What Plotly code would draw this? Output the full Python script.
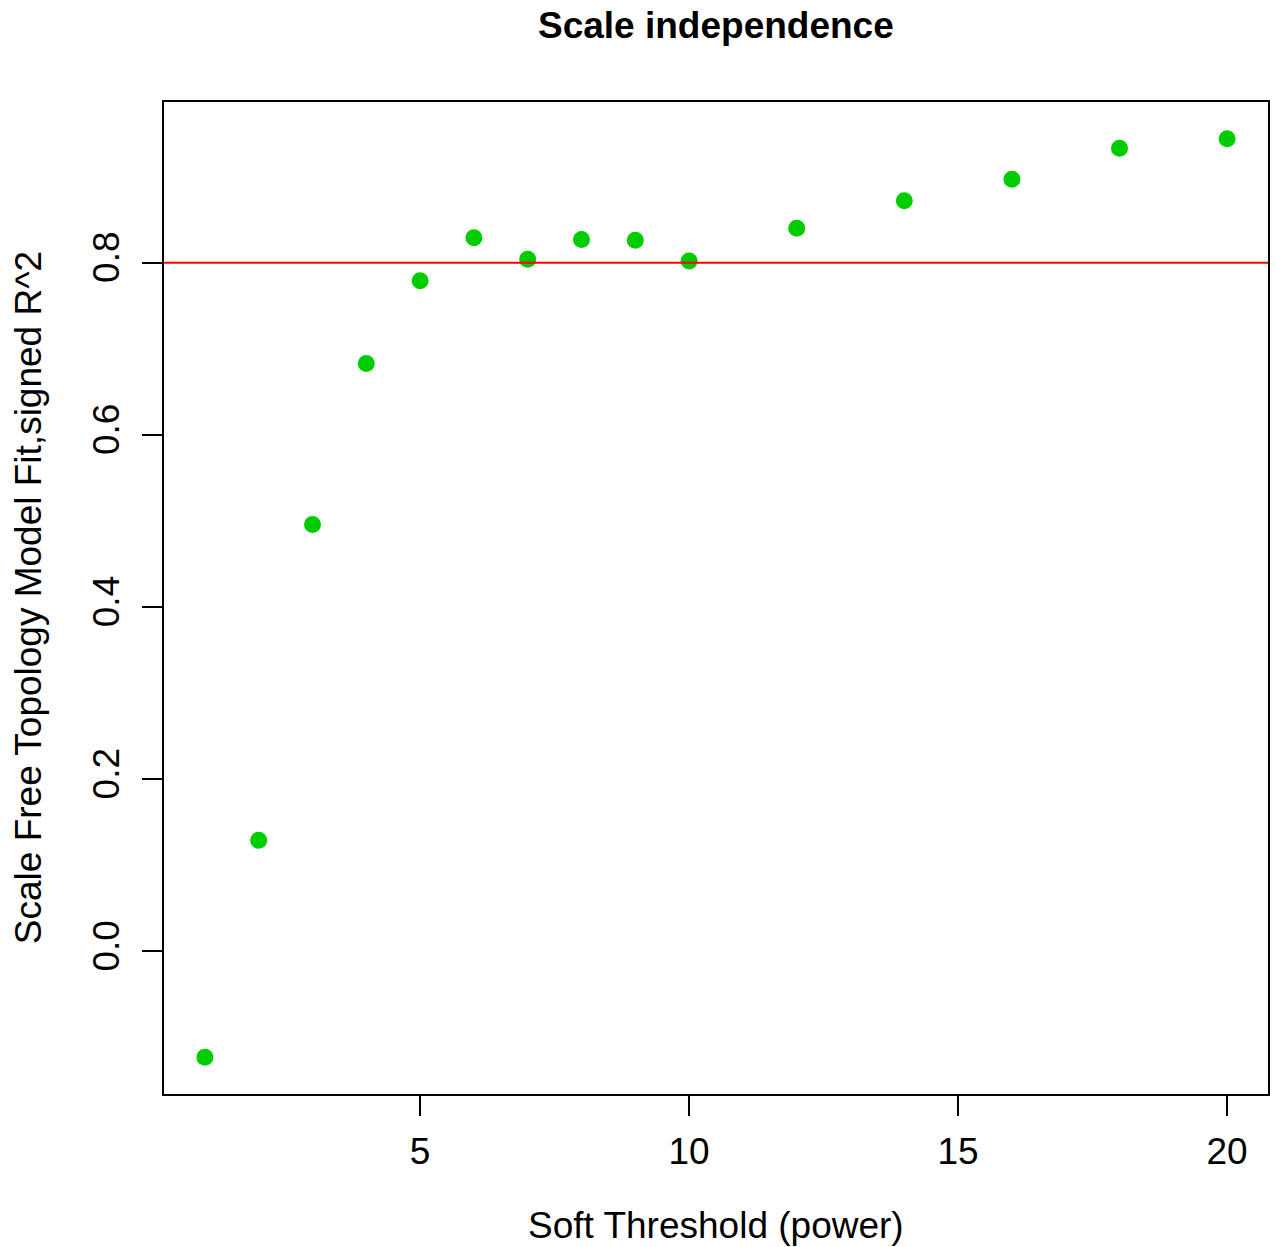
import plotly.graph_objects as go

# Soft-thresholding powers and the signed scale-free fit index for each
powers = [1, 2, 3, 4, 5, 6, 7, 8, 9, 10, 12, 14, 16, 18, 20]
sft_r2 = [-0.123, 0.129, 0.496, 0.683, 0.779, 0.829, 0.804, 0.827, 0.826,
          0.802, 0.840, 0.872, 0.897, 0.933, 0.944]
cutoff = 0.8

x_ticks = [5, 10, 15, 20]
y_ticks = [0.0, 0.2, 0.4, 0.6, 0.8]

FONT = "Liberation Sans, Arial, Helvetica, sans-serif"
FS = 37

fig = go.Figure()
fig.add_trace(go.Scatter(
    x=powers, y=sft_r2, mode="markers",
    marker=dict(size=17, color="#00CD00", line=dict(width=0)),
    hoverinfo="x+y", showlegend=False,
))

# R-style 4% padding around the data range
xmin, xmax = min(powers), max(powers)
ymin, ymax = min(sft_r2), max(sft_r2)
xpad = (xmax - xmin) * 0.04
ypad = (ymax - ymin) * 0.04

fig.add_shape(type="line", xref="paper", x0=0, x1=1, yref="y", y0=cutoff, y1=cutoff,
              line=dict(color="#FF0000", width=2), layer="above")

axis_common = dict(
    showgrid=False, zeroline=False, showline=True, linecolor="black", linewidth=2,
    mirror=True, ticks="outside", ticklen=20, tickwidth=2, tickcolor="black",
    tickfont=dict(family=FONT, size=FS, color="black"),
)

fig.update_xaxes(range=[xmin - xpad, xmax + xpad], tickvals=x_ticks,
                 ticklabelstandoff=4, **axis_common)
fig.update_yaxes(range=[ymin - ypad, ymax + ypad], tickvals=y_ticks,
                 tickformat=".1f", tickangle=-90, ticklabelstandoff=8, **axis_common)

fig.add_annotation(text="<b>Scale independence</b>", xref="paper", yref="paper",
                   x=0.5, y=1.0776, xanchor="center", yanchor="middle", showarrow=False,
                   font=dict(family=FONT, size=FS, color="black"))
fig.add_annotation(text="Soft Threshold (power)", xref="paper", yref="paper",
                   x=0.5, y=-0.133, xanchor="center", yanchor="middle", showarrow=False,
                   font=dict(family=FONT, size=FS, color="black"))
fig.add_annotation(text="Scale Free Topology Model Fit,signed R^2", xref="paper", yref="paper",
                   x=-0.123, y=0.5, xanchor="center", yanchor="middle", showarrow=False,
                   textangle=-90, font=dict(family=FONT, size=FS, color="black"))

fig.update_layout(
    width=1276, height=1247,
    margin=dict(l=164, r=6, t=102, b=153),
    paper_bgcolor="white", plot_bgcolor="white",
    font=dict(family=FONT, size=FS, color="black"),
)

fig.write_html("out.html")
